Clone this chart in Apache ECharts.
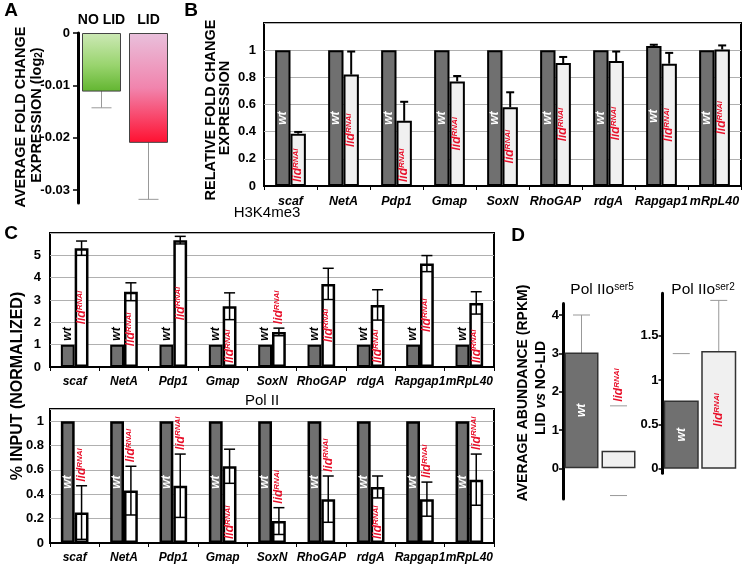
<!DOCTYPE html>
<html><head><meta charset="utf-8">
<script src="https://cdn.jsdelivr.net/npm/echarts@6/dist/echarts.min.js"></script>
<style>html,body{margin:0;padding:0;background:#fff}#c{width:744px;height:564px}</style>
</head><body><div id="c"></div>
<script>
const FONT = '"Liberation Sans", Arial, Helvetica, sans-serif';

// ---------------- data ----------------
const genes = ['scaf','NetA','Pdp1','Gmap','SoxN','RhoGAP','rdgA','Rapgap1','mRpL40'];

// Panel A
const aGroups = ['NO LID','LID'];
const aMeans = [-0.0112, -0.0210];
const aErr = [0.0031, 0.0108];
const aTicks = [0, -0.01, -0.02, -0.03];

// Panel B
const bWt = [1, 1, 1, 1, 1, 1, 1, 1.03, 1];
const bWtErr = [0, 0, 0, 0, 0, 0, 0, 0.01, 0];
const bLid = [0.385, 0.82, 0.48, 0.77, 0.58, 0.905, 0.92, 0.90, 1.005];
const bLidErr = [0.013, 0.17, 0.14, 0.04, 0.11, 0.045, 0.07, 0.08, 0.03];
const bTicks = [0, 0.2, 0.4, 0.6, 0.8, 1];

// Panel C - H3K4me3
const h3Wt = [1, 1, 1, 1, 1, 1, 1, 1, 1];
const h3Lid = [5.32, 3.37, 5.68, 2.72, 1.57, 3.72, 2.78, 4.63, 2.87];
const h3LidErr = [0.32, 0.4, 0.17, 0.6, 0.17, 0.7, 0.68, 0.36, 0.5];
const h3Ticks = [0, 1, 2, 3, 4, 5];

// Panel C - Pol II
const polWt = [1, 1, 1, 1, 1, 1, 1, 1, 1];
const polLid = [0.25, 0.43, 0.47, 0.63, 0.18, 0.36, 0.46, 0.36, 0.52];
const polLidErr = [0.22, 0.2, 0.26, 0.14, 0.11, 0.19, 0.09, 0.14, 0.21];
const polTicks = [0, 0.2, 0.4, 0.6, 0.8, 1];

// Panel D
const dGroups = ['wt', 'lid'];
const ser5 = [3.02, 0.46];
const ser5Err = [0.98, 1.17];
const ser5Ticks = [0, 1, 2, 3, 4];
const ser2 = [0.77, 1.33];
const ser2Err = [0.53, 0.57];
const ser2Ticks = [0, 0.5, 1, 1.5];

// ---------------- styles ----------------
const RED = '#e8102a';
const WT_GREY = '#707070';
const lidRich = {
  l: {fontSize: 12, fontStyle: 'italic', fontWeight: 'bold', fontFamily: FONT, fill: RED},
  s: {fontSize: 8, fontStyle: 'italic', fontWeight: 'bold', fontFamily: FONT, fill: RED, verticalAlign: 'top'}
};
const bLidPos = {scaf: 'insideBottom', Pdp1: 'insideBottom'};
const h3LidPos = {Gmap: 'insideBottom', SoxN: 'aboveErr', rdgA: 'insideBottom', mRpL40: 'insideBottom'};
const polLidPos = {Gmap: 'insideBottom', rdgA: 'insideBottom'};
const d5Stem = [true, false];
const d2Stem = [false, true];

function items(vals, errs) { return vals.map((v, i) => [i, v, errs ? errs[i] : 0]); }

function errSeries(gi, data, o) {
  return {
    type: 'custom', xAxisIndex: gi, yAxisIndex: gi, z: o.z, silent: true, data,
    renderItem(params, api) {
      const i = api.value(0), v = api.value(1), e = api.value(2);
      if (!e) return null;
      const band = api.size([1, 0])[0];
      const x = api.coord([i, 0])[0] + o.side * band * o.frac / 2;
      const yv = api.coord([i, v])[1], yt = api.coord([i, v + e])[1], yb = api.coord([i, v - e])[1];
      const h = o.cap / 2;
      const st = {stroke: o.color, lineWidth: o.lw};
      const ch = [];
      const stem = o.stem ? o.stem[params.dataIndex] : true;
      if (stem) ch.push({type: 'line', shape: {x1: x, y1: yt, x2: x, y2: o.up ? yv : yb}, style: st});
      ch.push({type: 'line', shape: {x1: x - h, y1: yt, x2: x + h, y2: yt}, style: st});
      if (!o.up) ch.push({type: 'line', shape: {x1: x - h, y1: yb, x2: x + h, y2: yb}, style: st});
      return {type: 'group', children: ch};
    }
  };
}

function labelSeries(gi, data, o) {
  return {
    type: 'custom', xAxisIndex: gi, yAxisIndex: gi, z: 6, silent: true, data,
    renderItem(params, api) {
      const i = api.value(0), v = api.value(1), e = api.value(2);
      const mode = o.mode(i);
      const base = api.coord([i, 0]);
      const band = api.size([1, 0])[0];
      const x = base[0] + o.side * band * o.frac / 2;
      const gap = 4;
      let y, align = 'left';
      if (mode === 'inside') { y = api.coord([i, v / 2])[1]; align = 'center'; }
      else if (mode === 'insideBottom') y = base[1] - gap;
      else if (mode === 'top') y = api.coord([i, v])[1] - gap;
      else y = api.coord([i, v + e])[1] - gap;
      const txt = o.kind === 'wt'
        ? {text: 'wt', fill: o.color, fontSize: 12, fontStyle: 'italic', fontWeight: 'bold', fontFamily: FONT}
        : {text: '{l|lid}{s|RNAi}', rich: lidRich};
      return {type: 'text', x, y, rotation: Math.PI / 2,
        style: Object.assign({align, verticalAlign: 'middle', textAlign: align, textVerticalAlign: 'middle'}, txt)};
    }
  };
}

function gtext(x, y, text, o) {
  o = o || {};
  return {type: 'text', x, y, rotation: o.rot || 0, silent: true,
    style: Object.assign({text, fill: '#000', fontFamily: FONT, fontSize: o.size || 14,
      fontWeight: o.weight || 'bold', align: 'center', verticalAlign: 'middle',
      textAlign: 'center', textVerticalAlign: 'middle'}, o.style || {})};
}

const catAxis = (gi, size) => ({
  gridIndex: gi, type: 'category', data: genes,
  axisLine: {lineStyle: {color: '#000', width: 2}},
  axisTick: {show: true, length: 4, interval: 0, lineStyle: {color: '#000', width: 1}},
  axisLabel: {interval: 0, hideOverlap: false, color: '#000', fontFamily: FONT, fontWeight: 'bold',
    fontStyle: 'italic', fontSize: size, margin: 9}
});
const numLabel = (vals, fmt, margin) => ({customValues: vals, formatter: fmt, color: '#000',
  fontFamily: FONT, fontWeight: 'bold', fontSize: 13, margin: margin});
const fmtPlain = v => String(+(+v).toFixed(2));
const split = {show: true, lineStyle: {color: '#b0b0b0', width: 1}};

const gradGreen = new echarts.graphic.LinearGradient(0, 0, 0, 1, [
  {offset: 0, color: '#cde9b6'}, {offset: 0.55, color: '#99d46e'}, {offset: 1, color: '#62b530'}]);
const gradPink = new echarts.graphic.LinearGradient(0, 0, 0, 1, [
  {offset: 0, color: '#e9c0dc'}, {offset: 0.5, color: '#f184ad'}, {offset: 1, color: '#ff1030'}]);

const boxGrid = {show: true, borderColor: '#000', borderWidth: 2, backgroundColor: 'transparent'};

const option = {
  animation: false,
  backgroundColor: '#fff',
  textStyle: {fontFamily: FONT},
  grid: [
    {left: 78, top: 33, width: 94, height: 170},
    Object.assign({left: 264, top: 23, width: 477, height: 163}, boxGrid),
    Object.assign({left: 50, top: 233, width: 444, height: 134}, boxGrid),
    Object.assign({left: 50, top: 409, width: 444, height: 134}, boxGrid),
    {left: 563, top: 303.5, width: 74, height: 195.5},
    {left: 662.5, top: 293.3, width: 75, height: 180}
  ],
  xAxis: [
    {gridIndex: 0, type: 'category', data: aGroups, position: 'top',
      axisLine: {show: false}, axisTick: {show: false},
      axisLabel: {interval: 0, hideOverlap: false, color: '#000', fontFamily: FONT, fontWeight: 'bold', fontSize: 14, margin: 6}},
    catAxis(1, 12.5),
    catAxis(2, 12),
    catAxis(3, 12),
    {gridIndex: 4, type: 'category', data: dGroups, show: false},
    {gridIndex: 5, type: 'category', data: dGroups, show: false}
  ],
  yAxis: [
    {gridIndex: 0, type: 'value', min: -0.0325, max: 0,
      axisLine: {show: true, lineStyle: {color: '#000', width: 3}},
      axisTick: {show: true, length: 5, customValues: aTicks, lineStyle: {color: '#000', width: 1.5}},
      axisLabel: numLabel(aTicks, v => (+v === 0 ? '0' : (+v).toFixed(2)), 8),
      splitLine: {show: false}},
    {gridIndex: 1, type: 'value', min: 0, max: 1.2, interval: 0.2,
      axisLine: {show: false}, axisTick: {show: false},
      axisLabel: numLabel(bTicks, fmtPlain, 8), splitLine: split},
    {gridIndex: 2, type: 'value', min: 0, max: 6, interval: 1,
      axisLine: {show: false}, axisTick: {show: false},
      axisLabel: numLabel(h3Ticks, fmtPlain, 9), splitLine: split},
    {gridIndex: 3, type: 'value', min: 0, max: 1.1, interval: 0.2,
      axisLine: {show: false}, axisTick: {show: false},
      axisLabel: numLabel(polTicks, fmtPlain, 6), splitLine: split},
    {gridIndex: 4, type: 'value', min: -0.8, max: 4.3,
      axisLine: {show: true, onZero: false, lineStyle: {color: '#000', width: 3}},
      axisTick: {show: true, length: 4, customValues: ser5Ticks, lineStyle: {color: '#000', width: 1.5}},
      axisLabel: numLabel(ser5Ticks, fmtPlain, 4), splitLine: {show: false}},
    {gridIndex: 5, type: 'value', min: -0.05, max: 1.98,
      axisLine: {show: true, onZero: false, lineStyle: {color: '#000', width: 3}},
      axisTick: {show: true, length: 4, customValues: ser2Ticks, lineStyle: {color: '#000', width: 1.5}},
      axisLabel: numLabel(ser2Ticks, fmtPlain, 4), splitLine: {show: false}}
  ],
  series: [
    // ----- A -----
    {type: 'bar', xAxisIndex: 0, yAxisIndex: 0, barWidth: 39, z: 2,
      data: aMeans.map((v, i) => ({value: v, itemStyle: {color: i === 0 ? gradGreen : gradPink}})),
      itemStyle: {borderColor: '#444', borderWidth: 1}},
    errSeries(0, items(aMeans, aErr), {side: 0, frac: 0, cap: 20, color: '#999', lw: 1, z: 1}),
    // ----- B -----
    {type: 'bar', xAxisIndex: 1, yAxisIndex: 1, data: bWt, barWidth: '29%', barGap: '0%', z: 2,
      itemStyle: {color: WT_GREY, borderColor: '#000', borderWidth: 2}},
    {type: 'bar', xAxisIndex: 1, yAxisIndex: 1, data: bLid, barWidth: '29%', barGap: '0%', z: 2,
      itemStyle: {color: '#f0f0f0', borderColor: '#000', borderWidth: 2}},
    errSeries(1, items(bWt, bWtErr), {side: -1, frac: 0.29, cap: 8, color: '#000', lw: 2, up: true, z: 3}),
    errSeries(1, items(bLid, bLidErr), {side: 1, frac: 0.29, cap: 8, color: '#000', lw: 2, up: true, z: 3}),
    labelSeries(1, items(bWt), {side: -1, frac: 0.29, kind: 'wt', color: '#fff', mode: () => 'inside'}),
    labelSeries(1, items(bLid, bLidErr), {side: 1, frac: 0.29, kind: 'lid', mode: i => bLidPos[genes[i]] || 'inside'}),
    // ----- C H3K4me3 -----
    {type: 'bar', xAxisIndex: 2, yAxisIndex: 2, data: h3Wt, barWidth: '28%', barGap: '0%', z: 2,
      itemStyle: {color: WT_GREY, borderColor: '#000', borderWidth: 2}},
    {type: 'bar', xAxisIndex: 2, yAxisIndex: 2, data: h3Lid, barWidth: '28%', barGap: '0%', z: 2,
      itemStyle: {color: '#fff', borderColor: '#000', borderWidth: 2.5}},
    errSeries(2, items(h3Lid, h3LidErr), {side: 1, frac: 0.28, cap: 11, color: '#000', lw: 1.5, z: 3}),
    labelSeries(2, items(h3Wt), {side: -1, frac: 0.28, kind: 'wt', color: '#000', mode: () => 'top'}),
    labelSeries(2, items(h3Lid, h3LidErr), {side: 1, frac: 0.28, kind: 'lid', mode: i => h3LidPos[genes[i]] || 'inside'}),
    // ----- C Pol II -----
    {type: 'bar', xAxisIndex: 3, yAxisIndex: 3, data: polWt, barWidth: '28%', barGap: '0%', z: 2,
      itemStyle: {color: WT_GREY, borderColor: '#000', borderWidth: 2.5}},
    {type: 'bar', xAxisIndex: 3, yAxisIndex: 3, data: polLid, barWidth: '28%', barGap: '0%', z: 2,
      itemStyle: {color: '#fff', borderColor: '#000', borderWidth: 2.5}},
    errSeries(3, items(polLid, polLidErr), {side: 1, frac: 0.28, cap: 11, color: '#000', lw: 1.5, z: 3}),
    labelSeries(3, items(polWt), {side: -1, frac: 0.28, kind: 'wt', color: '#fff', mode: () => 'inside'}),
    labelSeries(3, items(polLid, polLidErr), {side: 1, frac: 0.28, kind: 'lid', mode: i => polLidPos[genes[i]] || 'aboveErr'}),
    // ----- D ser5 -----
    {type: 'bar', xAxisIndex: 4, yAxisIndex: 4, barWidth: 34, z: 2,
      data: ser5.map((v, i) => ({value: v, itemStyle: {color: i === 0 ? WT_GREY : '#f0f0f0'}})),
      itemStyle: {borderColor: '#333', borderWidth: 1.5}},
    errSeries(4, items(ser5, ser5Err), {side: 0, frac: 0, cap: 17, color: '#999', lw: 1, z: 1, stem: d5Stem}),
    labelSeries(4, [[0, ser5[0], ser5Err[0]]], {side: 0, frac: 0, kind: 'wt', color: '#fff', mode: () => 'inside'}),
    labelSeries(4, [[1, ser5[1], ser5Err[1]]], {side: 0, frac: 0, kind: 'lid', mode: () => 'aboveErr'}),
    // ----- D ser2 -----
    {type: 'bar', xAxisIndex: 5, yAxisIndex: 5, barWidth: 35, z: 2,
      data: ser2.map((v, i) => ({value: v, itemStyle: {color: i === 0 ? WT_GREY : '#f0f0f0'}})),
      itemStyle: {borderColor: '#333', borderWidth: 1.5}},
    errSeries(5, items(ser2, ser2Err), {side: 0, frac: 0, cap: 17, color: '#999', lw: 1, z: 1, stem: d2Stem}),
    labelSeries(5, [[0, ser2[0], ser2Err[0]]], {side: 0, frac: 0, kind: 'wt', color: '#fff', mode: () => 'inside'}),
    labelSeries(5, [[1, ser2[1], ser2Err[1]]], {side: 0, frac: 0, kind: 'lid', mode: () => 'inside'})
  ],
  graphic: [
    gtext(11, 11, 'A', {size: 19}),
    gtext(191, 11, 'B', {size: 19}),
    gtext(11, 234, 'C', {size: 19}),
    gtext(518, 236, 'D', {size: 19}),
    gtext(21, 117, 'AVERAGE FOLD CHANGE', {rot: Math.PI / 2, size: 14.5}),
    gtext(37, 115, '{n|EXPRESSION (log}{b|2}{n|)}', {rot: Math.PI / 2, style: {rich: {
      n: {fontSize: 14.5, fontWeight: 'bold', fontFamily: FONT, fill: '#000'},
      b: {fontSize: 10, fontWeight: 'bold', fontFamily: FONT, fill: '#000', verticalAlign: 'bottom'}}}}),
    gtext(211, 110, 'RELATIVE FOLD CHANGE', {rot: Math.PI / 2, size: 14.5}),
    gtext(225, 108, 'EXPRESSION', {rot: Math.PI / 2, size: 14.5}),
    gtext(267, 213, 'H3K4me3', {size: 15, weight: 'normal'}),
    gtext(262, 401, 'Pol II', {size: 15, weight: 'normal'}),
    gtext(18, 386, '% INPUT (NORMALIZED)', {rot: Math.PI / 2, size: 16}),
    gtext(523, 393, 'AVERAGE ABUNDANCE (RPKM)', {rot: Math.PI / 2, size: 14}),
    gtext(541, 388, '{n|LID }{i|vs}{n| NO-LID}', {rot: Math.PI / 2, style: {rich: {
      n: {fontSize: 14, fontWeight: 'bold', fontFamily: FONT, fill: '#000'},
      i: {fontSize: 14, fontWeight: 'bold', fontStyle: 'italic', fontFamily: FONT, fill: '#000'}}}}),
    gtext(602, 290, '{n|Pol IIo}{s|ser5}', {style: {rich: {
      n: {fontSize: 15.5, fontFamily: FONT, fill: '#000'},
      s: {fontSize: 10, fontFamily: FONT, fill: '#000', verticalAlign: 'top'}}}}),
    gtext(703, 290, '{n|Pol IIo}{s|ser2}', {style: {rich: {
      n: {fontSize: 15.5, fontFamily: FONT, fill: '#000'},
      s: {fontSize: 10, fontFamily: FONT, fill: '#000', verticalAlign: 'top'}}}})
  ]
};

const chart = echarts.init(document.getElementById('c'), null, {renderer: 'canvas'});
chart.setOption(option);
</script></body></html>
